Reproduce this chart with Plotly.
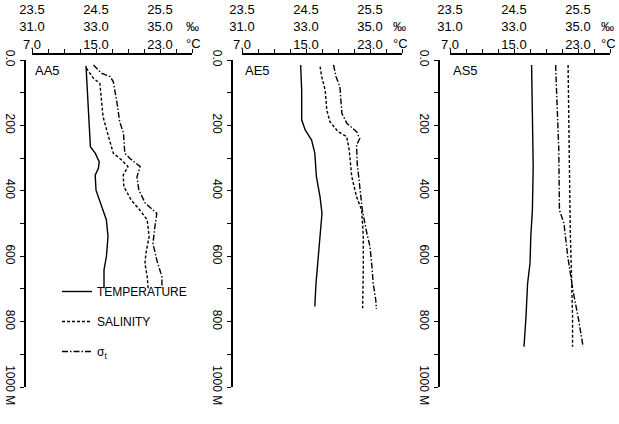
import plotly.graph_objects as go

# ---------------- data (depth in m) ----------------
stations = ["AA5", "AE5", "AS5"]

aa5_t_depth = [18, 41, 122, 204, 265, 285, 311, 331, 352, 398, 449, 489, 540, 601, 642, 698]
aa5_t = [13.75, 13.8, 14.0, 14.2, 14.3, 14.9, 15.4, 15.3, 14.9, 15.0, 15.7, 16.3, 16.5, 16.3, 16.0, 16.0]
aa5_s_depth = [25, 56, 71, 122, 173, 234, 285, 306, 326, 352, 387, 428, 459, 489, 540, 591, 622, 663, 698]
aa5_s = [32.7, 32.92, 33.12, 33.17, 33.22, 33.39, 33.54, 33.8, 34.0, 33.85, 33.87, 34.1, 34.37,
         34.6, 34.66, 34.56, 34.53, 34.6, 34.63]
aa5_sig_depth = [15, 41, 51, 66, 133, 189, 224, 285, 301, 326, 357, 398, 438, 469, 510, 561, 612, 663, 698]
aa5_sig = [24.46, 24.59, 24.72, 24.77, 24.83, 24.87, 24.93, 24.95, 25.03, 25.19, 25.14, 25.17,
           25.27, 25.45, 25.42, 25.39, 25.45, 25.53, 25.53]

ae5_t_depth = [15, 92, 183, 214, 245, 285, 357, 418, 469, 540, 622, 683, 754]
ae5_t = [14.33, 14.46, 14.46, 14.9, 15.7, 16.1, 16.3, 16.75, 17.0, 16.75, 16.4, 16.25, 16.1]
ae5_s_depth = [20, 51, 92, 153, 189, 219, 234, 275, 357, 418, 459, 540, 642, 759]
ae5_s = [33.44, 33.49, 33.6, 33.65, 33.75, 34.0, 34.27, 34.35, 34.43, 34.58, 34.74, 34.79, 34.79, 34.77]
ae5_sig_depth = [15, 51, 82, 163, 194, 219, 240, 260, 316, 377, 459, 520, 571, 632, 683, 734, 762]
ae5_sig = [24.93, 24.97, 25.03, 25.06, 25.14, 25.29, 25.34, 25.29, 25.3, 25.33, 25.38, 25.44,
           25.5, 25.53, 25.55, 25.59, 25.6]

as5_t_depth = [15, 173, 326, 459, 540, 622, 683, 785, 877]
as5_t = [17.2, 17.3, 17.4, 17.3, 17.1, 17.0, 16.7, 16.5, 16.25]
as5_s_depth = [15, 173, 377, 530, 632, 785, 877]
as5_s = [34.69, 34.71, 34.73, 34.76, 34.79, 34.83, 34.83]
as5_sig_depth = [15, 122, 275, 459, 499, 601, 703, 795, 877]
as5_sig = [25.15, 25.17, 25.2, 25.21, 25.28, 25.34, 25.42, 25.51, 25.58]

temp_ticktext = ["7.0", "15.0", "23.0"]
temp_tickvals = [7, 15, 23]
sal_tickvals = [31, 33, 35]
sal_ticktext = ["31.0", "33.0", "35.0"]
sig_tickvals = [23.5, 24.5, 25.5]
sig_ticktext = ["23.5", "24.5", "25.5"]
depth_tickvals = [0, 100, 200, 300, 400, 500, 600, 700, 800, 900, 1000]
depth_ticktext = ["0.0", " ", "200", " ", "400", " ", "600", " ", "800", " ", "1000 M"]

series_names = ["TEMPERATURE", "SALINITY", "σ<sub>t</sub>"]

panels = [
    (aa5_t_depth, aa5_t, aa5_s_depth, aa5_s, aa5_sig_depth, aa5_sig),
    (ae5_t_depth, ae5_t, ae5_s_depth, ae5_s, ae5_sig_depth, ae5_sig),
    (as5_t_depth, as5_t, as5_s_depth, as5_s, as5_sig_depth, as5_sig),
]

# ---------------- layout geometry ----------------
W, H = 619, 424
FONT = "Liberation Sans"


def px(x):
    return x / W


def py(y):
    return 1 - y / H


x_domains = [(32, 192), (242, 402), (450, 610)]
y_axis_px = [25, 232, 439]
unit_x_px = [184, 391, 599]
y_dom = [py(387), py(60)]

dashes = ["solid", "3px,2px", "6px,2px,1.5px,2px"]

fig = go.Figure()
layout = dict(
    width=W, height=H,
    margin=dict(l=0, r=0, t=0, b=0, autoexpand=False),
    paper_bgcolor="white", plot_bgcolor="white",
    font=dict(family=FONT, size=13, color="black"),
    showlegend=True,
    legend=dict(x=px(57), y=py(277), xanchor="left", yanchor="top",
                bgcolor="rgba(0,0,0,0)", font=dict(size=12, family=FONT),
                itemwidth=30, tracegroupgap=11),
)
annotations = []

for i, (td, tv, sd, sv, gd, gv) in enumerate(panels):
    base = 3 * i + 1
    xt, xs, xg = f"x{base}", f"x{base + 1}", f"x{base + 2}"
    yname = "y" if i == 0 else f"y{i + 1}"
    dom = [px(x_domains[i][0]), px(x_domains[i][1])]

    def ax_key(n):
        return "xaxis" if n == 1 else f"xaxis{n}"

    layout[ax_key(base)] = dict(
        domain=dom, range=[7, 27], side="top", anchor="free", position=py(54),
        automargin=False, tickangle=0, ticklabelstandoff=-5,
        showline=True, linecolor="black", linewidth=1.5, showgrid=False, zeroline=False,
        ticks="outside", ticklen=4, tickwidth=1, tickcolor="black",
        tickvals=list(range(7, 28, 2)),
        ticktext=[temp_ticktext[temp_tickvals.index(v)] if v in temp_tickvals else " "
                  for v in range(7, 28, 2)],
        tickfont=dict(size=13),
    )
    layout[ax_key(base + 1)] = dict(
        overlaying=xt, range=[31, 36], side="top", anchor="free", position=py(34),
        automargin=False, tickangle=0,
        showline=False, showgrid=False, zeroline=False, ticks="",
        tickvals=sal_tickvals, ticktext=sal_ticktext, tickfont=dict(size=13),
    )
    layout[ax_key(base + 2)] = dict(
        overlaying=xt, range=[23.5, 26], side="top", anchor="free", position=py(17),
        automargin=False, tickangle=0,
        showline=False, showgrid=False, zeroline=False, ticks="",
        tickvals=sig_tickvals, ticktext=sig_ticktext, tickfont=dict(size=13),
    )
    ykey = "yaxis" if i == 0 else f"yaxis{i + 1}"
    layout[ykey] = dict(
        domain=y_dom, range=[1000, 0], anchor="free", position=px(y_axis_px[i]),
        automargin=False,
        showline=True, linecolor="black", linewidth=1.5, showgrid=False, zeroline=False,
        ticks="outside", ticklen=4, tickwidth=1, tickcolor="black",
        tickvals=depth_tickvals, ticktext=depth_ticktext, tickangle=90,
        tickfont=dict(size=12),
    )

    for k, (xd, xv, xa) in enumerate([(tv, td, xt), (sv, sd, xs), (gv, gd, xg)]):
        fig.add_trace(go.Scatter(
            x=xd, y=xv, xaxis=xa, yaxis=yname, mode="lines",
            line=dict(color="black", width=1.4, dash=dashes[k]),
            name=series_names[k], legendgroup=f"g{k}", showlegend=(i == 0),
            hoverinfo="skip",
        ))

    annotations.append(dict(
        text=stations[i], xref="paper", yref="paper",
        x=px(x_domains[i][0] + 1), y=py(70), xanchor="left", yanchor="middle",
        showarrow=False, font=dict(size=13, family=FONT),
    ))
    annotations.append(dict(
        text="‰", xref="paper", yref="paper", x=px(unit_x_px[i]), y=py(27),
        xanchor="left", yanchor="middle", showarrow=False, font=dict(size=13, family=FONT),
    ))
    annotations.append(dict(
        text="°C", xref="paper", yref="paper", x=px(unit_x_px[i]), y=py(44),
        xanchor="left", yanchor="middle", showarrow=False, font=dict(size=13, family=FONT),
    ))

layout["annotations"] = annotations
fig.update_layout(**layout)
fig.write_html("out.html", config={"displayModeBar": False},
               post_script="document.body.style.margin='0';")
